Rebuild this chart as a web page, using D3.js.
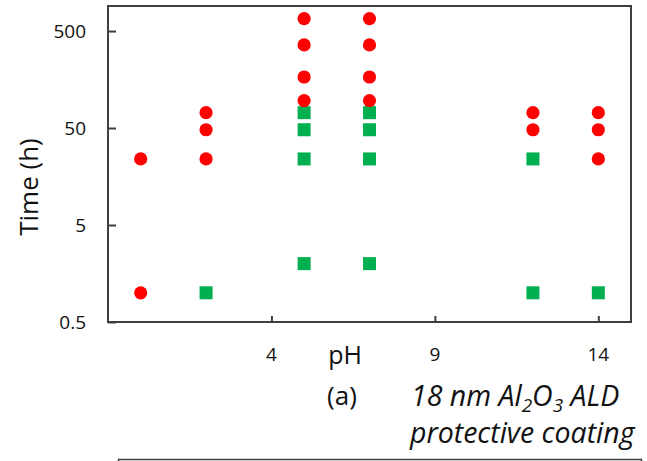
<!DOCTYPE html>
<html>
<head>
<meta charset="utf-8">
<script src="https://cdn.jsdelivr.net/npm/d3@7/dist/d3.min.js"></script>
<style>
  html, body { margin: 0; padding: 0; background: #fff; }
  svg { display: block; font-family: "Open Sans", "Noto Sans", sans-serif; }
</style>
</head>
<body>
<svg id="chart" width="647" height="461"></svg>
<script>
// ---- data ----
const xTicks = [4, 9, 14];
const yTicks = [0.5, 5, 50, 500];
const yTickLabels = ["0.5", "5", "50", "500"];

// red circles (pH, time in h)
const redPH   = [0, 0, 2, 2, 2, 5, 5, 5, 5, 7, 7, 7, 7, 12, 12, 14, 14, 14];
const redTime = [24, 1, 72, 48, 24, 672, 360, 168, 96, 672, 360, 168, 96, 72, 48, 72, 48, 24];

// green squares (pH, time in h)
const greenPH   = [2, 5, 5, 5, 5, 7, 7, 7, 7, 12, 12, 14];
const greenTime = [1, 72, 48, 24, 2, 72, 48, 24, 2, 24, 1, 1];

const xLabel = "pH";
const yLabel = "Time (h)";
const panelLabel = "(a)";

// ---- layout ----
const svg = d3.select("#chart");
const mLeft = 108, mRight = 631, mTop = 6, mBottom = 322;

const x = d3.scaleLinear().domain([-1, 15]).range([mLeft, mRight]);
const y = d3.scaleLog().domain([0.5, 906]).range([mBottom, mTop]);

const frameColor = "#3f3f3f";

// frame
svg.append("rect")
  .attr("x", mLeft).attr("y", mTop)
  .attr("width", mRight - mLeft).attr("height", mBottom - mTop)
  .attr("fill", "none").attr("stroke", frameColor).attr("stroke-width", 2);

// y axis (ticks inward)
const yAxis = d3.axisRight(y).tickValues(yTicks).tickSize(8).tickFormat("");
const gy = svg.append("g").attr("transform", `translate(${mLeft},0)`).call(yAxis);
gy.select(".domain").remove();
gy.selectAll("line").attr("stroke", frameColor).attr("stroke-width", 2);

svg.append("g").selectAll("text").data(yTicks).join("text")
  .attr("x", 86).attr("y", d => y(d))
  .attr("text-anchor", "end").attr("dominant-baseline", "central")
  .attr("font-size", 19).attr("fill", "#111")
  .text((d, i) => yTickLabels[i]);

// x axis (ticks inward)
const xAxis = d3.axisTop(x).tickValues(xTicks).tickSize(6).tickFormat("");
const gx = svg.append("g").attr("transform", `translate(0,${mBottom})`).call(xAxis);
gx.select(".domain").remove();
gx.selectAll("line").attr("stroke", frameColor).attr("stroke-width", 2);

svg.append("g").selectAll("text").data(xTicks).join("text")
  .attr("x", d => x(d)).attr("y", 354)
  .attr("text-anchor", "middle").attr("dominant-baseline", "central")
  .attr("font-size", 19).attr("fill", "#111")
  .text(d => d);

// green squares
const sq = 13;
svg.append("g").selectAll("rect").data(greenPH.map((p, i) => [p, greenTime[i]])).join("rect")
  .attr("x", d => x(d[0]) - sq / 2).attr("y", d => y(d[1]) - sq / 2)
  .attr("width", sq).attr("height", sq)
  .attr("fill", "#00b050");

// red circles
svg.append("g").selectAll("circle").data(redPH.map((p, i) => [p, redTime[i]])).join("circle")
  .attr("cx", d => x(d[0])).attr("cy", d => y(d[1]))
  .attr("r", 6.6)
  .attr("fill", "#ff0000");

// axis titles
svg.append("text")
  .attr("transform", "translate(28,187) rotate(-90)")
  .attr("text-anchor", "middle").attr("dominant-baseline", "central")
  .attr("font-size", 26).attr("fill", "#111")
  .text(yLabel);

svg.append("text")
  .attr("x", 345).attr("y", 354)
  .attr("text-anchor", "middle").attr("dominant-baseline", "central")
  .attr("font-size", 25).attr("fill", "#111")
  .text(xLabel);

svg.append("text")
  .attr("x", 342).attr("y", 395)
  .attr("text-anchor", "middle").attr("dominant-baseline", "central")
  .attr("font-size", 26).attr("fill", "#111")
  .text(panelLabel);

// annotation
const ann1 = svg.append("text")
  .attr("x", 411).attr("y", 406)
  .attr("font-size", 28.5).attr("font-style", "italic").attr("fill", "#111");
ann1.append("tspan").text("18 nm Al");
ann1.append("tspan").attr("font-size", 19).attr("dy", 6).text("2");
ann1.append("tspan").attr("dy", -6).text("O");
ann1.append("tspan").attr("font-size", 19).attr("dy", 6).text("3");
ann1.append("tspan").attr("dy", -6).text(" ALD");

svg.append("text")
  .attr("x", 410).attr("y", 443)
  .attr("font-size", 28.5).attr("font-style", "italic").attr("fill", "#111")
  .text("protective coating");

// bottom box
svg.append("rect")
  .attr("x", 118.5).attr("y", 459.5)
  .attr("width", 523).attr("height", 20)
  .attr("fill", "none").attr("stroke", frameColor).attr("stroke-width", 1.5);
</script>
</body>
</html>
